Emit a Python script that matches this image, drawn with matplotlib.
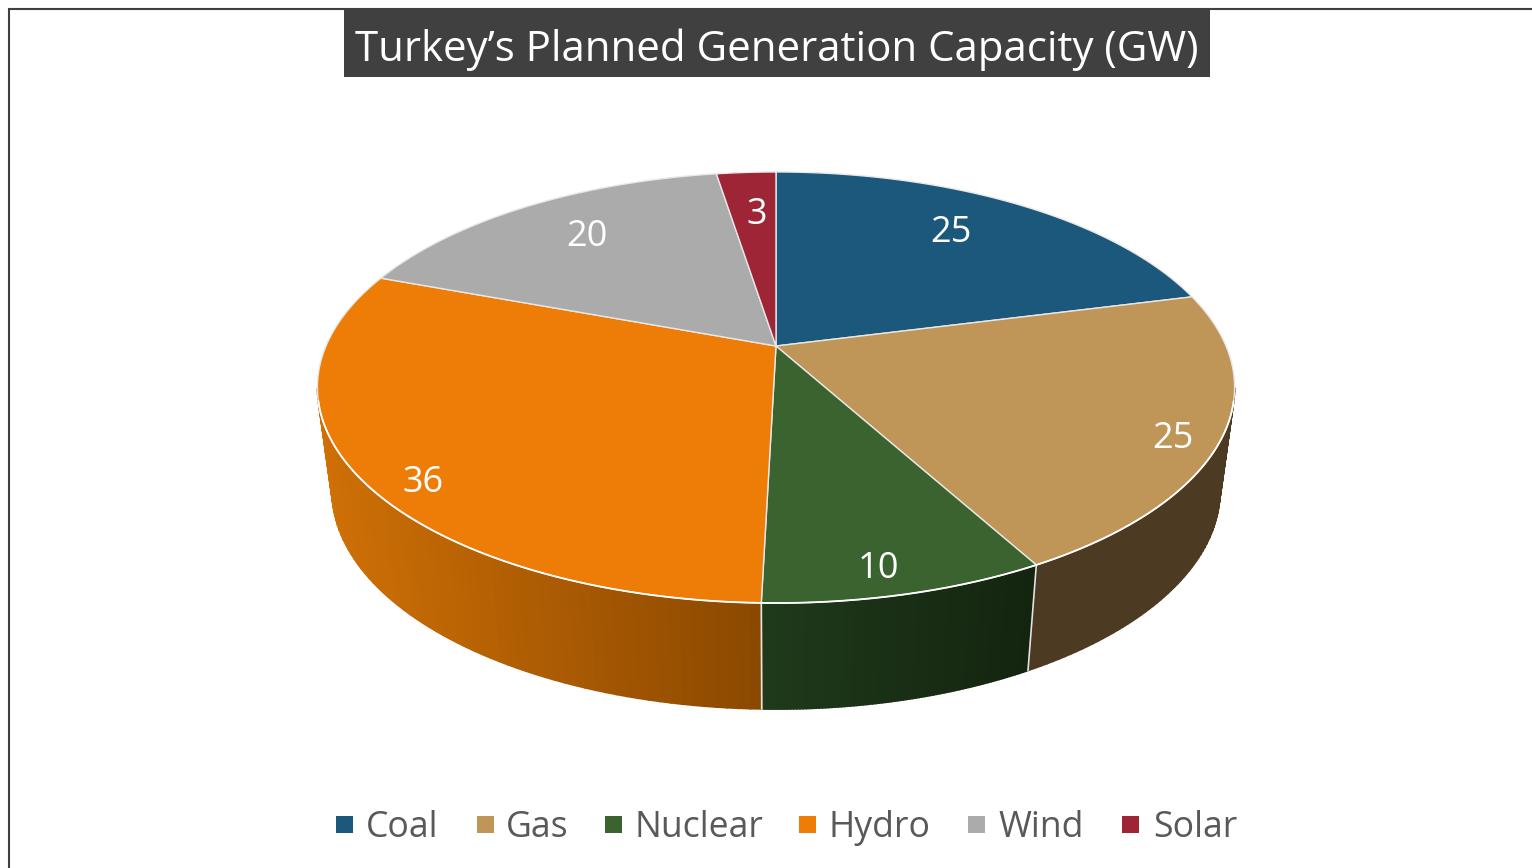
import numpy as np
import matplotlib
matplotlib.use('Agg')
import matplotlib.pyplot as plt
from matplotlib.colors import to_rgb
from matplotlib.patches import Rectangle

# data
title = 'Turkey\u2019s Planned Generation Capacity (GW)'
sources = ['Coal', 'Gas', 'Nuclear', 'Hydro', 'Wind', 'Solar']
capacity = [25, 25, 10, 36, 20, 3]

# styles
colors = ['#1b587c', '#bf9558', '#3a6330', '#ee7d08', '#ababab', '#9e2536']
wall_left = ['#0f3046', '#4d3a22', '#1f3a1b', '#cf7006', '#5f5f5f', '#561420']
wall_right = ['#0f3046', '#4d3a22', '#14240f', '#8a4800', '#5f5f5f', '#561420']

# layout, in pixels of the picture
label_xy = [(951, 233), (1173, 439), (878, 569), (423, 483), (587, 237), (757, 215)]
legend_box_x = [336, 477, 605, 799, 968, 1122]
legend_text_x = [366, 506, 635, 829, 998, 1153]


# perspective of the pie top, circle -> screen
def project(theta, r=1.0):
    u = r * np.sin(theta)
    v = r * np.cos(theta)
    w = 1 + 0.1926 * v
    return 776 + 450 * u / w, (346 - 140.9 * v) / w


def project_bottom(theta):
    x, y = project(theta)
    return 776 + 0.968 * (x - 776), y + 106 - 0.012 * (603 - y)


plt.rcParams['font.family'] = ['Open Sans', 'DejaVu Sans']
fig = plt.figure(figsize=(15.32, 8.68), dpi=100)
ax = fig.add_axes([0, 0, 1, 1])
ax.set_xlim(0, 1532)
ax.set_ylim(868, 0)
ax.axis('off')

# frame
ax.plot([9, 9, 1532], [868, 9, 9], color='#404040', lw=1.5, solid_joinstyle='miter')

edges = np.cumsum([0] + capacity) / sum(capacity) * 2 * np.pi

# side walls, only the part that faces the viewer
for i in range(len(capacity)):
    t = np.linspace(edges[i], edges[i + 1], 90)
    xt, yt = project(t)
    keep = yt >= 387
    if keep.sum() < 2:
        continue
    starts_on_edge = keep[0]
    t = t[keep]
    xt, yt = project(t)
    xb, yb = project_bottom(t)
    left = np.array(to_rgb(wall_left[i]))
    right = np.array(to_rgb(wall_right[i]))
    lo, hi = xt.min(), xt.max()
    for j in range(len(t) - 1):
        f = ((xt[j] + xt[j + 1]) / 2 - lo) / max(hi - lo, 1)
        c = left + (right - left) * f
        ax.fill([xt[j], xt[j + 1], xb[j + 1], xb[j]], [yt[j], yt[j + 1], yb[j + 1], yb[j]],
                color=c, lw=1.2, zorder=2)
    # light seam between walls
    if starts_on_edge:
        ax.plot([xt[0], xb[0]], [yt[0], yb[0]], color='#e4e4e4', lw=1.2, zorder=3)

# top slices
for i in range(len(capacity)):
    t = np.linspace(edges[i], edges[i + 1], 200)
    xt, yt = project(t)
    px = np.r_[776, xt]
    py = np.r_[346, yt]
    ax.fill(px, py, facecolor=colors[i], edgecolor='#e8e8e8', lw=1, zorder=4, joinstyle='round')

# brighter rim along the front
t = np.linspace(edges[1], edges[4], 400)
xt, yt = project(t)
front = yt >= 400
ax.plot(xt[front], yt[front], color='white', lw=1.3, zorder=4.5)

# data labels
for i in range(len(capacity)):
    ax.text(label_xy[i][0], label_xy[i][1], str(capacity[i]), color='white', fontsize=26,
            ha='center', va='center', zorder=5)

# title
ax.add_patch(Rectangle((344, 9), 866, 68, facecolor='#404040', edgecolor='none', zorder=6))
ax.text(777, 50, title, color='white', fontsize=30.25, ha='center', va='center', zorder=7)

# legend
for i in range(len(sources)):
    ax.add_patch(Rectangle((legend_box_x[i], 816), 17, 17, facecolor=colors[i], edgecolor='none'))
    ax.text(legend_text_x[i], 828, sources[i], color='#595959', fontsize=25.7, ha='left', va='center')

fig.savefig('out.png', dpi=100)
